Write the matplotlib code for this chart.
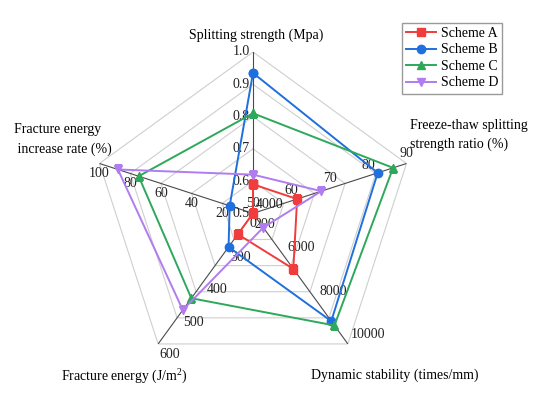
import numpy as np
import matplotlib
matplotlib.use('Agg')
import matplotlib.pyplot as plt

plt.rcParams['font.family'] = ['Liberation Serif', 'DejaVu Serif']
plt.rcParams['mathtext.fontset'] = 'custom'
plt.rcParams['mathtext.rm'] = 'Liberation Serif'

# axes, clockwise from top
lo = [0.5, 50, 4000, 200, 0]
hi = [1.0, 90, 10000, 600, 100]
ticks = [[0.5, 0.6, 0.7, 0.8, 0.9, 1.0],
         [50, 60, 70, 80, 90],
         [4000, 6000, 8000, 10000],
         [200, 300, 400, 500, 600],
         [0, 20, 40, 60, 80, 100]]
tick_fmt = ['{:.1f}', '{:d}', '{:d}', '{:d}', '{:d}']

schemes = ['Scheme A', 'Scheme B', 'Scheme C', 'Scheme D']
scheme_a = [0.59, 61.5, 6550, 264, 0]
scheme_b = [0.935, 82.5, 8950, 303, 15.2]
scheme_c = [0.81, 86.5, 9150, 460, 74.5]
scheme_d = [0.62, 67.8, 4650, 496, 88]

colors = ['#f03c3c', '#1f6fdc', '#2ea85a', '#b07cf0']
markers = ['s', 'o', '^', 'v']

n = len(lo)
theta = np.arange(n) * 2 * np.pi / n


def norm(vals):
    return [(v - a) / (b - a) for v, a, b in zip(vals, lo, hi)]


fig = plt.figure(figsize=(5.5, 3.94), dpi=100)
ax = fig.add_axes([0.1665, 0.0488, 0.587, 0.8193], projection='polar')
ax.set_theta_zero_location('N')
ax.set_theta_direction(-1)
ax.set_ylim(0, 1)
ax.grid(False)
ax.set_xticks([])
ax.set_yticks([])
ax.spines['polar'].set_visible(False)
ax.patch.set_alpha(0)

# pentagon grid
th_closed = np.append(theta, theta[0])
for r in [0.2, 0.4, 0.6, 0.8, 1.0]:
    ax.plot(th_closed, [r] * (n + 1), color='#cfcfcf', lw=0.8, zorder=1)
for t in theta:
    ax.plot([t, t], [0, 1], color='#4a4a4a', lw=0.8, zorder=2)

# tick labels for each axis
offs = [((-3, 0), 'right', 'center'),
        ((0, 10), 'center', 'center'),
        ((3, 9), 'left', 'center'),
        ((1, -11), 'left', 'center'),
        ((0, -10), 'center', 'center')]
for i in range(n):
    for tv in ticks[i]:
        r = (tv - lo[i]) / (hi[i] - lo[i])
        (dx, dy), ha, va = offs[i]
        ax.annotate(tick_fmt[i].format(tv), xy=(theta[i], r), xytext=(dx, dy),
                    textcoords='offset pixels', ha=ha, va=va, fontsize=10,
                    color='#222222', zorder=3)

for name, vals, c, m in zip(schemes, [scheme_a, scheme_b, scheme_c, scheme_d],
                            colors, markers):
    rv = norm(vals)
    ax.plot(np.append(theta, theta[0]), rv + rv[:1], color=c, lw=1.4,
            marker=m, markersize=6, label=name, zorder=4)

# axis titles
fig.text(0.4655, 0.911, 'Splitting strength (Mpa)', ha='center', va='center', fontsize=10)
fig.text(0.745, 0.657, 'Freeze-thaw splitting\nstrength ratio (%)', ha='left',
         va='center', fontsize=10, linespacing=1.55)
fig.text(0.718, 0.048, 'Dynamic stability (times/mm)', ha='center', va='center', fontsize=10)
fig.text(0.227, 0.048, 'Fracture energy (J/m$^2$)', ha='center', va='center', fontsize=10)
fig.text(0.0255, 0.645, 'Fracture energy\n increase rate (%)', ha='left',
         va='center', fontsize=10, linespacing=1.65)

fig.legend(loc='upper right', bbox_to_anchor=(0.913, 0.942), fontsize=10,
           fancybox=False, edgecolor='#9a9a9a', framealpha=1,
           handlelength=2.2, handletextpad=0.3, labelspacing=0.25,
           borderpad=0.3, borderaxespad=0)

fig.savefig('out.png', dpi=100)
